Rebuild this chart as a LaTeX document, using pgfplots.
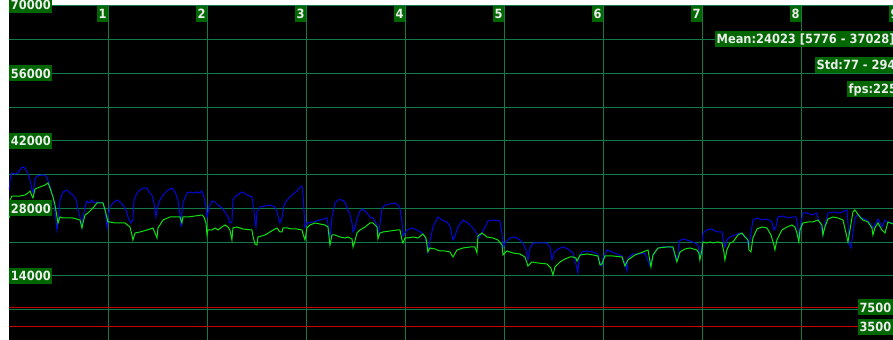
\documentclass[border=0pt]{standalone}
\usepackage{pgfplots}
\pgfplotsset{compat=1.18}
\usepackage{fontspec}
\newfontfamily\labfont{DejaVu Sans Condensed}
\definecolor{gridgreen}{RGB}{18,122,68}
\definecolor{labgreen}{RGB}{0,102,0}
\definecolor{labtext}{RGB}{236,236,236}
\definecolor{lineblue}{RGB}{0,10,220}
\definecolor{linegreen}{RGB}{16,224,16}
\definecolor{linered}{RGB}{200,0,0}
\begin{document}
\begin{tikzpicture}[lab/.style={fill=labgreen, text=labtext, font=\labfont\bfseries\fontsize{12.75}{14}\selectfont, inner xsep=1.5bp, inner ysep=0bp, minimum height=16bp, text height=9.4bp, text depth=0bp}]
\fill[white] (-9.3bp,0) rectangle (883.7bp,340bp);
\begin{axis}[
  at={(0,0)}, anchor=south west,
  width=883.7bp, height=334bp, scale only axis,
  xmin=0, xmax=8.927, ymin=726, ymax=70000,
  clip=false,
  axis background/.style={fill=black},
  axis line style={draw=none},
  major tick length=0pt,
  xtick={1,2,3,4,5,6,7,8},
  ytick={7000,14000,21000,28000,35000,42000,49000,56000,63000,70000},
  xticklabels={}, yticklabels={},
  grid=major,
  major grid style={gridgreen, line width=1bp},
]
\addplot[lineblue, line width=1bp] coordinates {
(0,31836) (0.007,33910) (0.027,35362) (0.058,35155) (0.088,35362) (0.108,35984) (0.128,36606) (0.159,36398)
(0.189,35155) (0.209,33910) (0.229,31836) (0.239,31214) (0.249,32251) (0.260,34117) (0.280,34740) (0.330,34947)
(0.361,34947) (0.381,34325) (0.411,32666) (0.441,30385) (0.462,27275) (0.482,23543) (0.502,27068) (0.512,29763)
(0.542,31422) (0.583,31836) (0.613,31214) (0.643,30800) (0.674,29763) (0.694,27690) (0.714,26238) (0.734,24165)
(0.744,26031) (0.765,28312) (0.785,29556) (0.815,29141) (0.835,29763) (0.856,29141) (0.886,29348) (0.916,29141)
(0.946,29141) (0.967,27690) (0.987,24165) (0.997,26238) (1.017,28312) (1.047,29141) (1.088,29763) (1.118,29348)
(1.148,28726) (1.179,27690) (1.199,26238) (1.229,24994) (1.249,25616) (1.260,29763) (1.290,31214) (1.320,31836)
(1.350,32251) (1.391,32251) (1.411,31422) (1.441,30800) (1.462,29141) (1.482,26238) (1.492,27690) (1.512,29348)
(1.553,30800) (1.603,31836) (1.643,32251) (1.674,31422) (1.704,29763) (1.724,26653) (1.734,24165) (1.744,27068)
(1.754,29141) (1.795,31214) (1.825,31422) (1.855,31214) (1.896,31422) (1.926,31214) (1.946,31629) (1.967,30385)
(1.987,28312) (1.997,26238) (2.007,27068) (2.017,28312) (2.047,29556) (2.078,29348) (2.108,28726) (2.148,28104)
(2.179,27275) (2.209,26238) (2.229,24994) (2.249,25202) (2.259,29763) (2.280,30385) (2.330,31214) (2.360,31422)
(2.401,30800) (2.451,30385) (2.471,27690) (2.482,25202) (2.492,24165) (2.502,27275) (2.532,28312) (2.583,28519)
(2.633,28726) (2.684,28312) (2.704,27275) (2.734,24994) (2.755,26031) (2.775,28726) (2.805,29763) (2.835,30385)
(2.866,31007) (2.906,31629) (2.936,32458) (2.956,32666) (2.967,30800) (2.987,24165) (3.007,24994) (3.068,25202)
(3.138,25616) (3.209,26031) (3.219,24787) (3.239,21884) (3.260,26238) (3.290,29141) (3.320,29763) (3.360,29763)
(3.391,29348) (3.411,28104) (3.441,26860) (3.462,24994) (3.472,23128) (3.492,23958) (3.512,25824) (3.542,27482)
(3.572,27897) (3.613,27068) (3.643,26238) (3.674,26031) (3.714,24580) (3.724,22506) (3.744,24580) (3.765,28104)
(3.795,28726) (3.845,28934) (3.896,29141) (3.926,28726) (3.946,28104) (3.967,25202) (3.977,22299) (4.017,23543)
(4.068,23958) (4.118,23543) (4.169,22921) (4.199,22092) (4.219,20433) (4.229,18982) (4.249,21262) (4.280,24165)
(4.330,26238) (4.370,25616) (4.421,25202) (4.451,24372) (4.482,21470) (4.502,22299) (4.532,24165) (4.583,25616)
(4.633,24994) (4.684,23958) (4.724,22714) (4.744,21884) (4.775,22921) (4.805,24165) (4.835,25409) (4.886,25616)
(4.956,25409) (4.977,22921) (4.987,19811) (5.007,20848) (5.057,21884) (5.108,22092) (5.158,21470) (5.189,20848)
(5.219,19392) (5.239,17323) (5.260,19811) (5.290,20848) (5.360,20848) (5.431,20848) (5.461,20018) (5.482,17323)
(5.502,18770) (5.542,19604) (5.593,20018) (5.643,19604) (5.694,18770) (5.734,15664) (5.744,14628) (5.754,17738)
(5.785,18982) (5.835,19189) (5.896,18982) (5.946,18567) (5.967,16908) (5.987,16079) (5.997,17738) (6.037,19392)
(6.088,18982) (6.138,18567) (6.189,18152) (6.219,16701) (6.239,15042) (6.249,17738) (6.300,18567) (6.371,18567)
(6.421,18770) (6.472,16079) (6.502,18152) (6.542,19604) (6.593,20018) (6.653,20018) (6.704,19811) (6.734,17323)
(6.755,18360) (6.765,21262) (6.805,21677) (6.876,21262) (6.926,20848) (6.956,20433) (6.976,17945) (6.997,20433)
(7.007,22921) (7.047,23543) (7.098,23750) (7.148,23128) (7.199,23128) (7.209,21884) (7.229,20018) (7.249,21470)
(7.280,22092) (7.330,22506) (7.381,22921) (7.452,21884) (7.472,20018) (7.492,22921) (7.512,25616) (7.553,26031)
(7.603,25616) (7.654,25824) (7.704,25202) (7.724,23543) (7.744,24165) (7.765,26238) (7.815,26446) (7.865,26031)
(7.916,26238) (7.946,26238) (7.966,24165) (7.976,21470) (7.997,24994) (8.017,27068) (8.058,27068) (8.108,26653)
(8.158,27068) (8.168,26031) (8.199,24580) (8.219,22506) (8.239,24580) (8.270,27068) (8.320,27275) (8.391,27068)
(8.462,27690) (8.472,24994) (8.482,20848) (8.502,19811) (8.522,22921) (8.542,26031) (8.573,26653) (8.613,26031)
(8.664,25616) (8.694,24994) (8.724,23958) (8.754,24994) (8.775,25824) (8.815,24165) (8.846,25616) (8.876,24994)
(8.927,24994)
};
\addplot[linegreen, line width=1bp] coordinates {
(0,26031) (0.007,29763) (0.027,30592) (0.108,30592) (0.159,30800) (0.189,31214) (0.209,31629) (0.229,30592)
(0.239,30178) (0.260,32044) (0.310,32458) (0.361,32873) (0.391,33288) (0.411,32251) (0.441,30385) (0.462,28726)
(0.482,26238) (0.492,24994) (0.512,26238) (0.542,26031) (0.583,26031) (0.643,26031) (0.714,25616) (0.734,23958)
(0.744,24994) (0.765,26653) (0.795,27068) (0.845,28104) (0.886,29141) (0.916,29141) (0.946,29141) (0.967,27690)
(0.987,26031) (0.997,25202) (1.017,25202) (1.068,24994) (1.118,24994) (1.169,24994) (1.219,24165) (1.239,22506)
(1.249,21470) (1.270,22921) (1.320,23128) (1.391,23543) (1.451,23958) (1.472,22921) (1.492,21884) (1.502,23958)
(1.553,25616) (1.623,26238) (1.674,26238) (1.724,26238) (1.744,24994) (1.754,26238) (1.805,26238) (1.876,26446)
(1.946,26653) (1.967,26238) (1.987,24994) (1.997,22506) (2.007,23543) (2.047,23543) (2.078,23958) (2.108,23543)
(2.148,24165) (2.179,24580) (2.209,24165) (2.229,23543) (2.249,21470) (2.259,23958) (2.300,24165) (2.360,23750)
(2.451,23543) (2.461,22299) (2.482,20640) (2.502,20433) (2.512,22092) (2.583,22506) (2.633,23128) (2.684,23750)
(2.704,23958) (2.734,23128) (2.755,23128) (2.765,23958) (2.805,23958) (2.856,23750) (2.906,23750) (2.956,23543)
(2.967,22714) (2.987,21470) (3.007,23958) (3.037,24580) (3.088,24994) (3.138,24787) (3.189,24580) (3.219,24165)
(3.239,20433) (3.260,22506) (3.290,22506) (3.340,22092) (3.391,21884) (3.421,22092) (3.462,21677) (3.472,20018)
(3.492,21262) (3.512,22921) (3.542,23543) (3.593,24165) (3.643,24994) (3.674,24994) (3.714,24165) (3.724,21677)
(3.744,22921) (3.775,23128) (3.845,23336) (3.916,23543) (3.946,23543) (3.967,21470) (3.977,20848) (3.997,21884)
(4.027,21884) (4.078,22092) (4.128,21884) (4.179,22714) (4.209,21884) (4.229,18982) (4.249,19811) (4.300,19604)
(4.350,19189) (4.401,19189) (4.451,18982) (4.482,17945) (4.522,19392) (4.583,19811) (4.654,20018) (4.704,20018)
(4.724,18770) (4.734,22299) (4.775,22921) (4.825,22092) (4.886,21884) (4.936,21470) (4.977,20433) (4.987,18360)
(5.027,19189) (5.088,18770) (5.158,18567) (5.209,17945) (5.239,16079) (5.280,16908) (5.340,16701) (5.431,16494)
(5.471,15664) (5.492,14213) (5.512,15872) (5.563,16908) (5.613,17530) (5.664,17945) (5.694,17945) (5.724,17738)
(5.734,17116) (5.765,18360) (5.835,18567) (5.896,18360) (5.946,18152) (5.967,16286) (5.987,16494) (6.017,18152)
(6.098,18152) (6.189,17945) (6.219,16079) (6.249,17323) (6.320,18360) (6.401,18982) (6.452,19392) (6.482,15872)
(6.502,18360) (6.553,19811) (6.643,20018) (6.704,20018) (6.734,17738) (6.744,16908) (6.775,18982) (6.825,19604)
(6.876,19811) (6.946,19392) (6.966,18770) (6.976,17323) (6.997,19392) (7.007,21055) (7.047,20848) (7.077,21055)
(7.108,20848) (7.158,21055) (7.199,20848) (7.219,18982) (7.229,17323) (7.249,19392) (7.280,20848) (7.310,21055)
(7.361,22506) (7.401,22921) (7.431,22092) (7.462,21470) (7.472,19392) (7.492,18982) (7.512,21884) (7.553,23750)
(7.603,24165) (7.654,23958) (7.694,22506) (7.724,20433) (7.734,19392) (7.754,21470) (7.805,23543) (7.855,24165)
(7.906,24580) (7.936,24165) (7.956,22921) (7.976,21055) (7.987,23543) (8.017,24994) (8.068,25202) (8.118,25202)
(8.168,25616) (8.209,24580) (8.219,22506) (8.239,24165) (8.270,25824) (8.320,26238) (8.371,26031) (8.421,25616)
(8.452,22921) (8.472,21055) (8.492,23543) (8.522,27275) (8.542,27690) (8.563,27068) (8.593,26238) (8.623,25616)
(8.674,25202) (8.714,23958) (8.724,22506) (8.744,23958) (8.775,24994) (8.815,23543) (8.846,22921) (8.876,25202)
(8.927,24787)
};
\draw[linered, line width=1.1bp] (axis cs:0,7500) -- (axis cs:8.927,7500);
\draw[linered, line width=1.1bp] (axis cs:0,3500) -- (axis cs:8.927,3500);
\node[lab, anchor=north east] at (axis cs:1,70000) {1};
\node[lab, anchor=north east] at (axis cs:2,70000) {2};
\node[lab, anchor=north east] at (axis cs:3,70000) {3};
\node[lab, anchor=north east] at (axis cs:4,70000) {4};
\node[lab, anchor=north east] at (axis cs:5,70000) {5};
\node[lab, anchor=north east] at (axis cs:6,70000) {6};
\node[lab, anchor=north east] at (axis cs:7,70000) {7};
\node[lab, anchor=north east] at (axis cs:8,70000) {8};
\node[lab, anchor=north east] at (axis cs:9,70000) {9};
\node[lab, anchor=west] at (axis cs:0,70300) {70000};
\node[lab, anchor=west] at (axis cs:0,56000) {56000};
\node[lab, anchor=west] at (axis cs:0,42000) {42000};
\node[lab, anchor=west] at (axis cs:0,28000) {28000};
\node[lab, anchor=west] at (axis cs:0,14000) {14000};
\node[lab, anchor=east] at (axis cs:8.927,7500) {7500};
\node[lab, anchor=east] at (axis cs:8.927,3500) {3500};
\node[lab, anchor=west] at (axis cs:7.128,63153) {Mean:24023 [5776 - 37028]};
\node[lab, anchor=west] at (axis cs:8.138,57761) {Std:77 - 294};
\node[lab, anchor=west] at (axis cs:8.462,52783) {fps:225};
\end{axis}
\pgfresetboundingbox
\path[use as bounding box] (-9.3bp,0) rectangle (883.7bp,340bp);
\end{tikzpicture}
\end{document}
